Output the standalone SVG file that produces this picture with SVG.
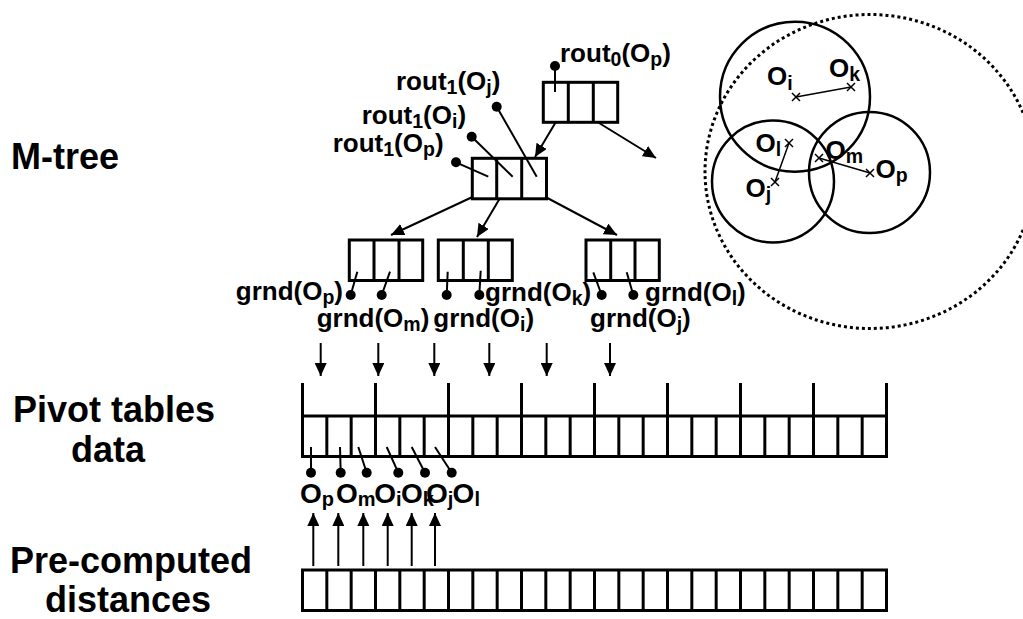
<svg xmlns="http://www.w3.org/2000/svg" width="1023" height="619" viewBox="0 0 1023 619">
<style>
text{font-family:"Liberation Sans",Arial,sans-serif;font-weight:bold;fill:#000}
.title{font-size:36px}
.lbl{font-size:26px}
.lbl .s{font-size:19.5px}
.clbl{font-size:26px}
.clbl .s{font-size:19.5px}
.plbl{font-size:28px}
.plbl .s{font-size:20px}
.box{fill:#fff;stroke:#000;stroke-width:3}
.div{stroke:#000;stroke-width:3}
.ptr{stroke:#000;stroke-width:2;fill:none}
.arr{stroke:#000;stroke-width:2;fill:none;marker-end:url(#ah)}
.circ{fill:none;stroke:#000;stroke-width:2.5}
.thin{stroke:#000;stroke-width:1.5;fill:none}
.dot{fill:#000}
</style>
<defs>
<marker id="ah" markerUnits="userSpaceOnUse" markerWidth="13" markerHeight="12" refX="13" refY="6" orient="auto" viewBox="0 0 13 12">
<path d="M0,0 L13,6 L0,12 z" fill="#000"/>
</marker>
</defs>

<!-- Titles -->
<g id="titles">
<text class="title" x="11" y="169">M-tree</text>
<text class="title" x="13" y="422">Pivot tables</text>
<text class="title" x="71" y="462">data</text>
<text class="title" x="10" y="573">Pre-computed</text>
<text class="title" x="45" y="612">distances</text>
</g>

<!-- Connectors -->
<g id="connectors">
<line class="arr" x1="560" y1="115" x2="535" y2="157"/>
<line class="arr" x1="586" y1="115" x2="656" y2="158"/>
<line class="arr" x1="481" y1="193" x2="391" y2="235"/>
<line class="arr" x1="503" y1="193" x2="477" y2="237"/>
<line class="arr" x1="538" y1="193" x2="617" y2="235"/>
<line class="arr" x1="320.7" y1="343" x2="320.7" y2="376"/>
<line class="arr" x1="378.3" y1="343" x2="378.3" y2="376"/>
<line class="arr" x1="434.3" y1="343" x2="434.3" y2="376"/>
<line class="arr" x1="489.3" y1="343" x2="489.3" y2="376"/>
<line class="arr" x1="546.7" y1="343" x2="546.7" y2="376"/>
<line class="arr" x1="610" y1="343" x2="610" y2="376"/>
<line class="arr" x1="313.3" y1="566" x2="313.3" y2="513"/>
<line class="arr" x1="338.3" y1="566" x2="338.3" y2="513"/>
<line class="arr" x1="363.3" y1="566" x2="363.3" y2="513"/>
<line class="arr" x1="387.7" y1="566" x2="387.7" y2="513"/>
<line class="arr" x1="411.7" y1="566" x2="411.7" y2="513"/>
<line class="arr" x1="435" y1="566" x2="435" y2="513"/>
</g>

<!-- Root node -->
<g id="root-node">
<rect class="box" x="543.3" y="82.3" width="74.4" height="40"/>
<line class="div" x1="568.3" y1="82.3" x2="568.3" y2="122.3"/>
<line class="div" x1="593.3" y1="82.3" x2="593.3" y2="122.3"/>
<line class="ptr" x1="555" y1="66" x2="555" y2="92"/>
<circle class="dot" cx="555" cy="66" r="5"/>
<text class="lbl" x="560" y="62">rout<tspan class="s" dy="4">0</tspan><tspan dy="-4">(O</tspan><tspan class="s" dy="4">p</tspan><tspan dy="-4">)</tspan></text>
</g>

<!-- Level 1 node -->
<g id="level1-node">
<rect class="box" x="472.3" y="158.3" width="74.2" height="40.5"/>
<line class="div" x1="496.7" y1="158.3" x2="496.7" y2="198.8"/>
<line class="div" x1="521.7" y1="158.3" x2="521.7" y2="198.8"/>
<line class="ptr" x1="456" y1="162.3" x2="488.3" y2="176.7"/>
<circle class="dot" cx="456" cy="162.3" r="5"/>
<line class="ptr" x1="471.7" y1="136.7" x2="512.7" y2="176.7"/>
<circle class="dot" cx="471.7" cy="136.7" r="5"/>
<line class="ptr" x1="496.7" y1="106.7" x2="536.7" y2="176.7"/>
<circle class="dot" cx="496.7" cy="106.7" r="5"/>
<text class="lbl" x="396" y="90">rout<tspan class="s" dy="4">1</tspan><tspan dy="-4">(O</tspan><tspan class="s" dy="4">j</tspan><tspan dy="-4">)</tspan></text>
<text class="lbl" x="361.7" y="123.5">rout<tspan class="s" dy="4">1</tspan><tspan dy="-4">(O</tspan><tspan class="s" dy="4">i</tspan><tspan dy="-4">)</tspan></text>
<text class="lbl" x="332.7" y="151.7">rout<tspan class="s" dy="4">1</tspan><tspan dy="-4">(O</tspan><tspan class="s" dy="4">p</tspan><tspan dy="-4">)</tspan></text>
</g>

<!-- Level 2 node A -->
<g id="leaf-a">
<rect class="box" x="349.3" y="240" width="73.4" height="40.5"/>
<line class="div" x1="374" y1="240" x2="374" y2="280.5"/>
<line class="div" x1="399" y1="240" x2="399" y2="280.5"/>
<line class="ptr" x1="357.3" y1="271.7" x2="350.7" y2="295"/>
<circle class="dot" cx="350.7" cy="295" r="5"/>
<line class="ptr" x1="390" y1="271.7" x2="381.7" y2="295"/>
<circle class="dot" cx="381.7" cy="295" r="5"/>
<text class="lbl" x="343" y="300" text-anchor="end">grnd(O<tspan class="s" dy="4">p</tspan><tspan dy="-4">)</tspan></text>
<text class="lbl" x="316.7" y="327.3">grnd(O<tspan class="s" dy="4">m</tspan><tspan dy="-4">)</tspan></text>
</g>

<!-- Level 2 node B -->
<g id="leaf-b">
<rect class="box" x="438.3" y="240" width="74" height="40.5"/>
<line class="div" x1="463.3" y1="240" x2="463.3" y2="280.5"/>
<line class="div" x1="488.3" y1="240" x2="488.3" y2="280.5"/>
<line class="ptr" x1="447.7" y1="271.7" x2="446.7" y2="295"/>
<circle class="dot" cx="446.7" cy="295" r="5"/>
<line class="ptr" x1="480.7" y1="270.7" x2="479.3" y2="295"/>
<circle class="dot" cx="479.3" cy="295" r="5"/>
<text class="lbl" x="433.3" y="327.3">grnd(O<tspan class="s" dy="4">i</tspan><tspan dy="-4">)</tspan></text>
<text class="lbl" x="485" y="301">grnd(O<tspan class="s" dy="4">k</tspan><tspan dy="-4">)</tspan></text>
</g>

<!-- Level 2 node C -->
<g id="leaf-c">
<rect class="box" x="586" y="240" width="73.3" height="40.5"/>
<line class="div" x1="610.7" y1="240" x2="610.7" y2="280.5"/>
<line class="div" x1="635" y1="240" x2="635" y2="280.5"/>
<line class="ptr" x1="593.3" y1="272.3" x2="601.7" y2="295"/>
<circle class="dot" cx="601.7" cy="295" r="5"/>
<line class="ptr" x1="626.7" y1="272.3" x2="633.3" y2="295"/>
<circle class="dot" cx="633.3" cy="295" r="5"/>
<text class="lbl" x="590" y="327.3">grnd(O<tspan class="s" dy="4">j</tspan><tspan dy="-4">)</tspan></text>
<text class="lbl" x="645" y="301">grnd(O<tspan class="s" dy="4">l</tspan><tspan dy="-4">)</tspan></text>
</g>

<!-- Metric space -->
<g id="metric-space">
<ellipse cx="870" cy="171.5" rx="165" ry="157" fill="none" stroke="#000" stroke-width="3" stroke-dasharray="3 3"/>
<circle class="circ" cx="795" cy="96.7" r="75"/>
<circle class="circ" cx="773" cy="181.5" r="61"/>
<circle class="circ" cx="869.5" cy="172.5" r="60.5"/>
<line class="thin" x1="796" y1="97" x2="851" y2="87"/>
<line class="thin" x1="789" y1="143" x2="775" y2="182"/>
<line class="thin" x1="819" y1="158" x2="870" y2="173"/>
<path class="thin" d="M792,93l8,8M800,93l-8,8 M847,83l8,8M855,83l-8,8 M785,139l8,8M793,139l-8,8 M771,178l8,8M779,178l-8,8 M815,154l8,8M823,154l-8,8 M866,169l8,8M874,169l-8,8"/>
<text class="clbl" x="767" y="85">O<tspan class="s" dy="5">i</tspan></text>
<text class="clbl" x="829" y="76.7">O<tspan class="s" dy="4">k</tspan></text>
<text class="clbl" x="755.5" y="151.7">O<tspan class="s" dy="4">l</tspan></text>
<text class="clbl" x="825.5" y="159.3">O<tspan class="s" dy="4">m</tspan></text>
<text class="clbl" x="875.5" y="178.3">O<tspan class="s" dy="4">p</tspan></text>
<text class="clbl" x="745.5" y="196.7">O<tspan class="s" dy="4">j</tspan></text>
</g>

<!-- Pivot table -->
<g id="pivot-table">
<rect class="box" x="302.5" y="416" width="584" height="40.5"/>
<path class="div" d="M326.83,416V456.5M351.17,416V456.5M375.5,416V456.5M399.83,416V456.5M424.17,416V456.5M448.5,416V456.5M472.83,416V456.5M497.17,416V456.5M521.5,416V456.5M545.83,416V456.5M570.17,416V456.5M594.5,416V456.5M618.83,416V456.5M643.17,416V456.5M667.5,416V456.5M691.83,416V456.5M716.17,416V456.5M740.5,416V456.5M764.83,416V456.5M789.17,416V456.5M813.5,416V456.5M837.83,416V456.5M862.17,416V456.5"/>
<path class="div" d="M302.5,383V416M375.5,383V416M448.5,383V416M521.5,383V416M594.5,383V416M667.5,383V416M740.5,383V416M813.5,383V416M886.5,383V416"/>
<line class="ptr" x1="311" y1="447" x2="311" y2="472.7"/>
<circle class="dot" cx="311" cy="472.7" r="5"/>
<line class="ptr" x1="340" y1="447" x2="340.7" y2="472.7"/>
<circle class="dot" cx="340.7" cy="472.7" r="5"/>
<line class="ptr" x1="358.3" y1="447" x2="366.7" y2="472.7"/>
<circle class="dot" cx="366.7" cy="472.7" r="5"/>
<line class="ptr" x1="386.7" y1="447" x2="398.3" y2="472.7"/>
<circle class="dot" cx="398.3" cy="472.7" r="5"/>
<line class="ptr" x1="411.7" y1="447" x2="425" y2="472.7"/>
<circle class="dot" cx="425" cy="472.7" r="5"/>
<line class="ptr" x1="435" y1="447" x2="451.7" y2="472.7"/>
<circle class="dot" cx="451.7" cy="472.7" r="5"/>
<text class="plbl" x="300" y="503">O<tspan class="s" dy="3">p</tspan></text>
<text class="plbl" x="336" y="503">O<tspan class="s" dy="3">m</tspan></text>
<text class="plbl" x="374.3" y="503">O<tspan class="s" dy="3">i</tspan></text>
<text class="plbl" x="401" y="503">O<tspan class="s" dy="3">k</tspan></text>
<text class="plbl" x="426" y="503">O<tspan class="s" dy="3">j</tspan></text>
<text class="plbl" x="452.6" y="503">O<tspan class="s" dy="3">l</tspan></text>
</g>

<!-- Pre-computed distances table -->
<g id="distance-table">
<rect class="box" x="302.5" y="570" width="584" height="40.5"/>
<path class="div" d="M326.83,570V610.5M351.17,570V610.5M375.5,570V610.5M399.83,570V610.5M424.17,570V610.5M448.5,570V610.5M472.83,570V610.5M497.17,570V610.5M521.5,570V610.5M545.83,570V610.5M570.17,570V610.5M594.5,570V610.5M618.83,570V610.5M643.17,570V610.5M667.5,570V610.5M691.83,570V610.5M716.17,570V610.5M740.5,570V610.5M764.83,570V610.5M789.17,570V610.5M813.5,570V610.5M837.83,570V610.5M862.17,570V610.5"/>
</g>
</svg>
